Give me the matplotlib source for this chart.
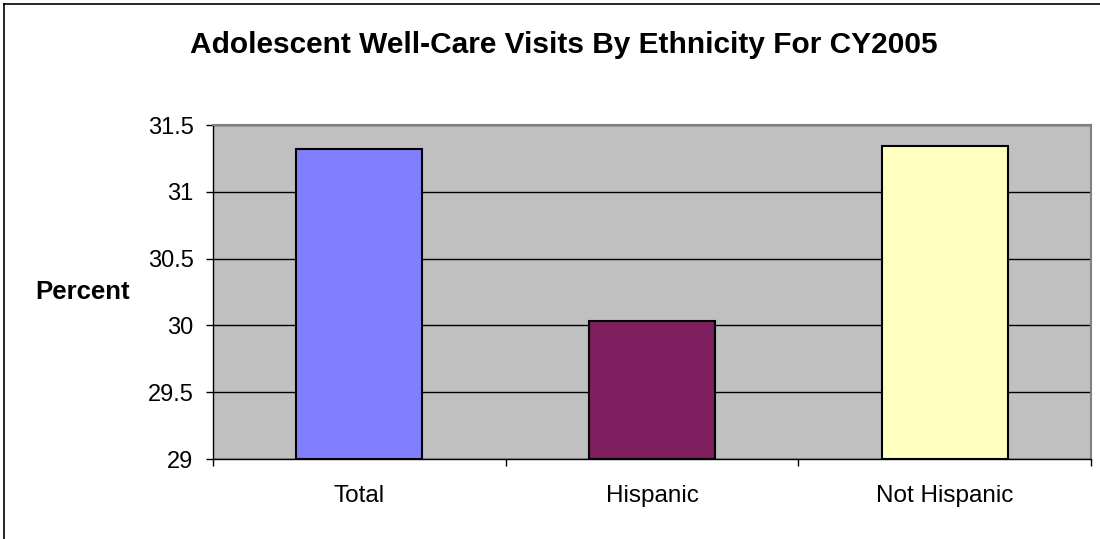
import matplotlib
matplotlib.use("Agg")
import matplotlib.pyplot as plt
from matplotlib.lines import Line2D

categories = ["Total", "Hispanic", "Not Hispanic"]
values = [31.32, 30.03, 31.34]
colors = ["#8080FF", "#7F1F5F", "#FFFFC0"]
yticks = [29, 29.5, 30, 30.5, 31, 31.5]
ytick_labels = ["29", "29.5", "30", "30.5", "31", "31.5"]

plt.rcParams['font.family'] = ['Liberation Sans', 'DejaVu Sans']

fig = plt.figure(figsize=(11, 5.39), dpi=100)
W, H = 1100, 539
# outer chart border (visible only on left and top)
fig.add_artist(Line2D([4 / W, 4 / W], [0, 1 - 3.5 / H], transform=fig.transFigure,
                      color="black", linewidth=1.2))
fig.add_artist(Line2D([4 / W, 1], [1 - 3.5 / H, 1 - 3.5 / H], transform=fig.transFigure,
                      color="black", linewidth=1.2))

ax = fig.add_axes([213 / W, 1 - 459 / H, (1091 - 213) / W, (459 - 125) / H])
ax.set_facecolor("#C0C0C0")
x = list(range(len(categories)))
ax.bar(x, [v - 29 for v in values], bottom=29, width=0.43, color=colors,
       edgecolor="black", linewidth=1.5, zorder=3)
ax.set_xlim(-0.5, 2.5)
ax.set_ylim(29, 31.5)
ax.set_yticks(yticks)
ax.set_yticklabels(ytick_labels, fontsize=17)
ax.yaxis.grid(True, color="black", linewidth=1)
ax.set_axisbelow(True)
ax.set_xticks(x)
ax.set_xticklabels(categories, fontsize=17.5)
ax.tick_params(axis="x", which="major", length=0, pad=19)
ax.set_xticks([-0.5, 0.5, 1.5, 2.5], minor=True)
ax.tick_params(axis="x", which="minor", length=5, width=1, direction="out")
ax.tick_params(axis="y", length=5, width=1, direction="out", pad=9)
for s in ["top", "right"]:
    ax.spines[s].set_color("#808080")
    ax.spines[s].set_linewidth(1.5)
for s in ["left", "bottom"]:
    ax.spines[s].set_color("black")
    ax.spines[s].set_linewidth(1)

fig.text(564 / W, 1 - 53 / H, "Adolescent Well-Care Visits By Ethnicity For CY2005",
         ha="center", va="baseline", fontsize=21.5, fontweight="bold")
fig.text(83 / W, 1 - 299 / H, "Percent", ha="center", va="baseline",
         fontsize=18.5, fontweight="bold")

fig.savefig("out.png", dpi=100)
